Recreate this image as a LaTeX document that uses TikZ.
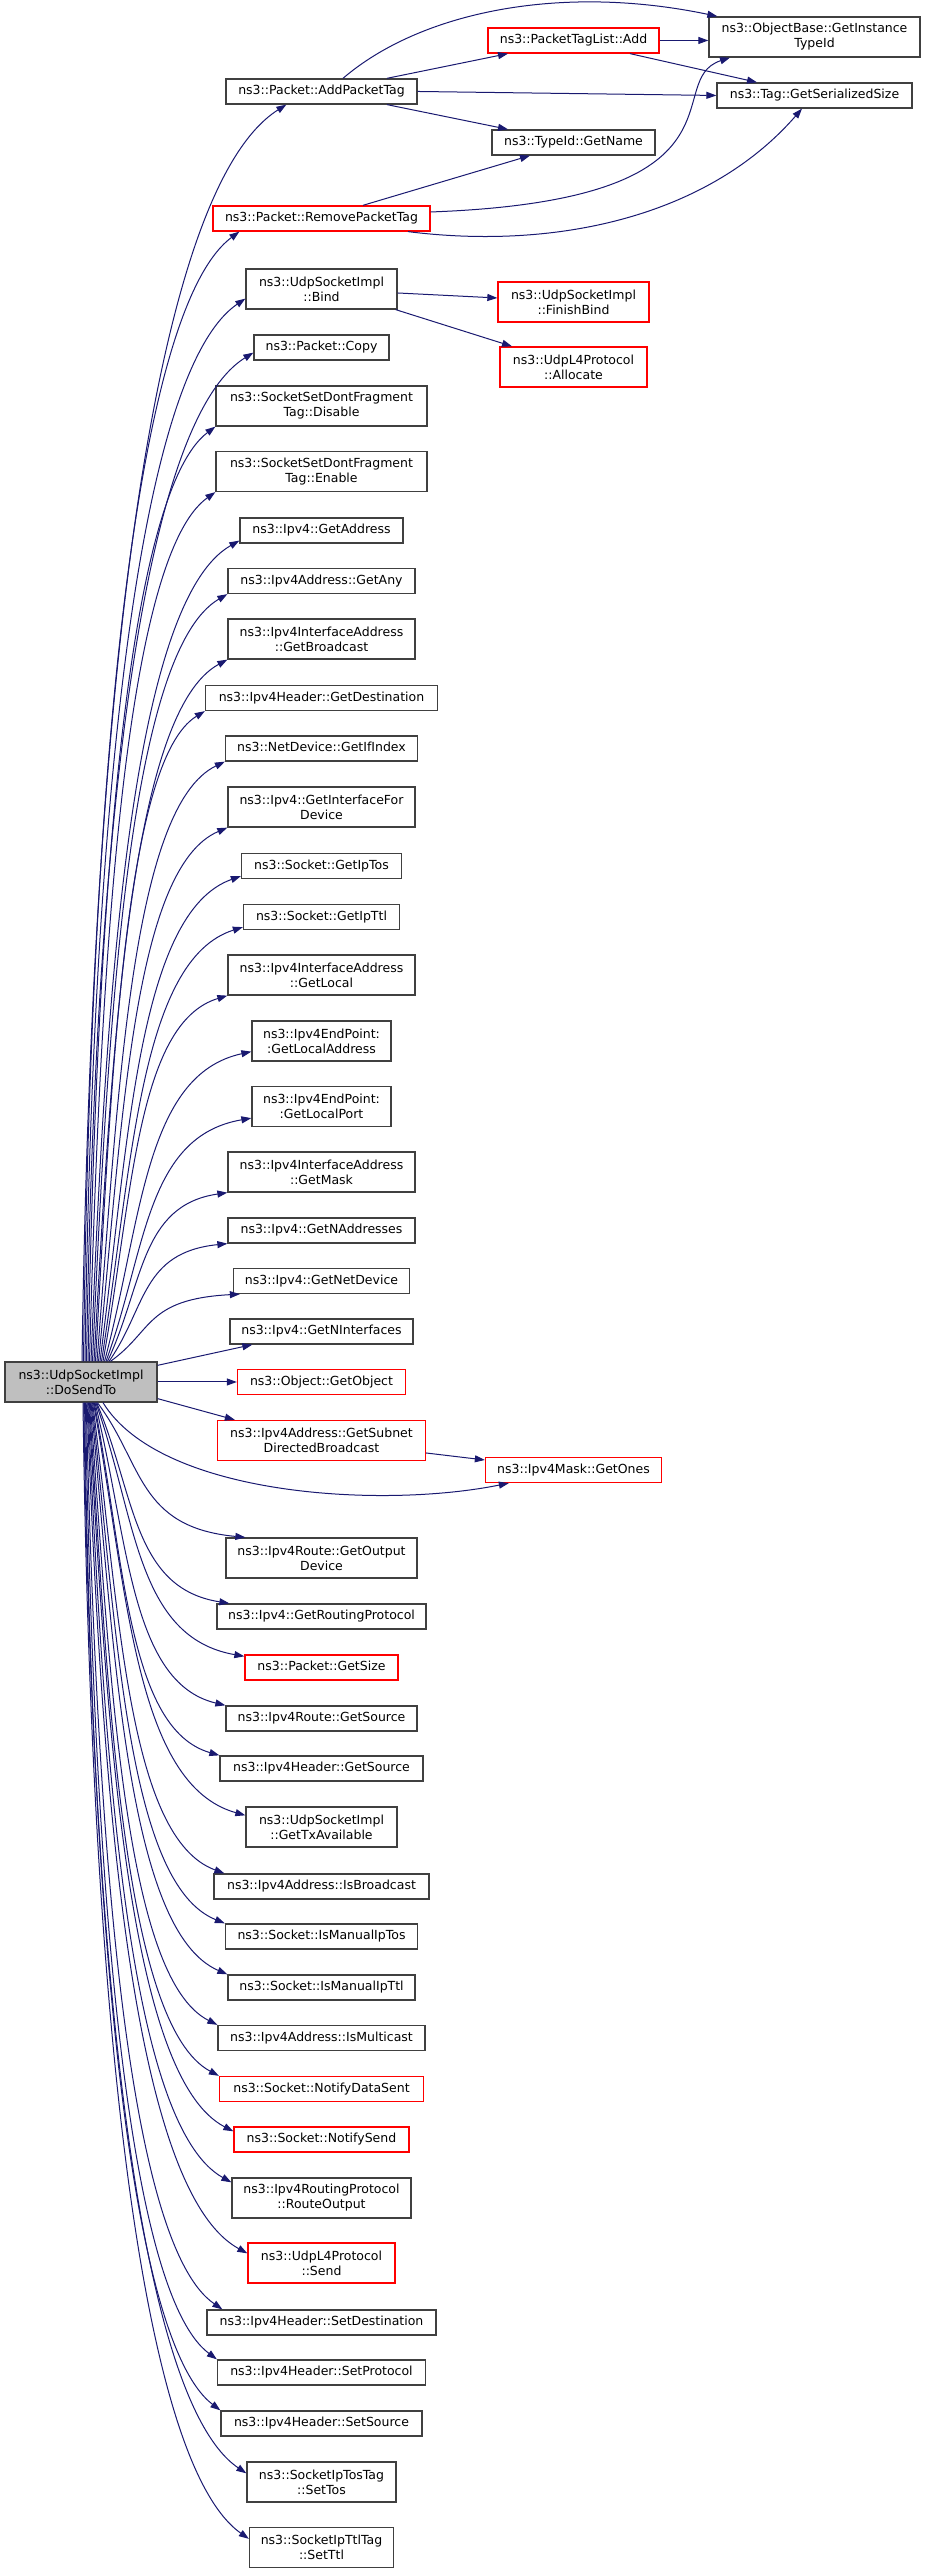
\documentclass[tikz,border=0pt]{standalone}
\usepackage{fontspec}
\newfontfamily\dotfont{DejaVu Sans}
\usetikzlibrary{arrows.meta,calc}
\definecolor{grey25}{HTML}{404040}
\definecolor{grey75}{HTML}{BFBFBF}
\definecolor{midnight}{HTML}{191970}
\tikzset{
  box/.style={draw=grey25, line width=1.3pt, fill=white, inner sep=0pt, align=center,
    font=\dotfont\fontsize{12.5pt}{15pt}\selectfont},
  fn/.style={box, minimum height=25pt, text height=9.5pt, text depth=2.7pt},
  fntwo/.style={box, minimum height=40pt},
  trunc/.style={draw=red},
  call/.style={midnight, line width=1pt, -{Triangle[length=10pt,width=7pt]}}
}
% curved call edge from the caller to a callee
\newcommand{\callto}[2]{\draw[call] let \p1=(#1), \p2=(#2), \n1={\x2-\x1}, \n2={\y2-\y1},
  \n3={max(0.04,0.35-0.0003*abs(\n2))} in
  (\p1) .. controls +(\n3*\n1,0.45*\n2) and +(-0.73*\n1,-0.075*\n2) .. (\p2);}

\begin{document}
\begin{tikzpicture}[x=1pt,y=1pt]
\useasboundingbox (0,0) rectangle (925,2573);
% caller
\node[fntwo, fill=grey75, minimum width=152pt] (main) at (81,1191) {ns3::UdpSocketImpl\\::DoSendTo};
% callees
\node[fn, minimum width=191pt] (add) at (321.5,2481.5) {ns3::Packet::AddPacketTag};
\node[fn, trunc, minimum width=217pt] (rpt) at (321.5,2354.5) {ns3::Packet::RemovePacketTag};
\node[fntwo, minimum width=151pt] (bind) at (321.5,2284) {ns3::UdpSocketImpl\\::Bind};
\node[fn, minimum width=135pt] (copy) at (321.5,2225.5) {ns3::Packet::Copy};
\node[fntwo, minimum width=211pt] (disable) at (321.5,2167) {ns3::SocketSetDontFragment\\Tag::Disable};
\node[fntwo, minimum width=211pt] (enable) at (321.5,2101.5) {ns3::SocketSetDontFragment\\Tag::Enable};
\node[fn, minimum width=163pt] (getaddr) at (321.5,2042.5) {ns3::Ipv4::GetAddress};
\node[fn, minimum width=187pt] (getany) at (321.5,1992) {ns3::Ipv4Address::GetAny};
\node[fntwo, minimum width=187pt] (bcast) at (321.5,1934) {ns3::Ipv4InterfaceAddress\\::GetBroadcast};
\node[fn, minimum width=232pt] (dest) at (321.5,1875) {ns3::Ipv4Header::GetDestination};
\node[fn, minimum width=192pt] (ifindex) at (321.5,1824.5) {ns3::NetDevice::GetIfIndex};
\node[fntwo, minimum width=187pt] (ifdev) at (321.5,1766) {ns3::Ipv4::GetInterfaceFor\\Device};
\node[fn, minimum width=160pt] (iptos) at (321.5,1707) {ns3::Socket::GetIpTos};
\node[fn, minimum width=156pt] (ipttl) at (321.5,1656) {ns3::Socket::GetIpTtl};
\node[fntwo, minimum width=187pt] (local) at (321.5,1598) {ns3::Ipv4InterfaceAddress\\::GetLocal};
\node[fntwo, minimum width=139pt] (localaddr) at (321.5,1532) {ns3::Ipv4EndPoint:\\:GetLocalAddress};
\node[fntwo, minimum width=139pt] (localport) at (321.5,1466.5) {ns3::Ipv4EndPoint:\\:GetLocalPort};
\node[fntwo, minimum width=187pt] (mask) at (321.5,1401) {ns3::Ipv4InterfaceAddress\\::GetMask};
\node[fn, minimum width=187pt] (naddr) at (321.5,1342.5) {ns3::Ipv4::GetNAddresses};
\node[fn, minimum width=176pt] (netdev) at (321.5,1292) {ns3::Ipv4::GetNetDevice};
\node[fn, minimum width=183pt] (nifaces) at (321.5,1241.5) {ns3::Ipv4::GetNInterfaces};
\node[fn, trunc, minimum width=168pt] (getobject) at (321.5,1191) {ns3::Object::GetObject};
\node[fntwo, trunc, minimum width=208pt] (subnet) at (321.5,1132.5) {ns3::Ipv4Address::GetSubnet\\DirectedBroadcast};
\node[fntwo, minimum width=191pt] (outdev) at (321.5,1015) {ns3::Ipv4Route::GetOutput\\Device};
\node[fn, minimum width=209pt] (routing) at (321.5,956.5) {ns3::Ipv4::GetRoutingProtocol};
\node[fn, trunc, minimum width=153pt] (size) at (321.5,905.5) {ns3::Packet::GetSize};
\node[fn, minimum width=191pt] (rsource) at (321.5,854.5) {ns3::Ipv4Route::GetSource};
\node[fn, minimum width=203pt] (hsource) at (321.5,804.5) {ns3::Ipv4Header::GetSource};
\node[fntwo, minimum width=151pt] (txavail) at (321.5,746) {ns3::UdpSocketImpl\\::GetTxAvailable};
\node[fn, minimum width=215pt] (isbcast) at (321.5,686.5) {ns3::Ipv4Address::IsBroadcast};
\node[fn, minimum width=192pt] (manualtos) at (321.5,636.5) {ns3::Socket::IsManualIpTos};
\node[fn, minimum width=187pt] (manualttl) at (321.5,585.5) {ns3::Socket::IsManualIpTtl};
\node[fn, minimum width=207pt] (ismcast) at (321.5,535) {ns3::Ipv4Address::IsMulticast};
\node[fn, trunc, minimum width=204pt] (datasent) at (321.5,484) {ns3::Socket::NotifyDataSent};
\node[fn, trunc, minimum width=175pt] (notifysend) at (321.5,433.5) {ns3::Socket::NotifySend};
\node[fntwo, minimum width=179pt] (routeoutput) at (321.5,375) {ns3::Ipv4RoutingProtocol\\::RouteOutput};
\node[fntwo, trunc, minimum width=147pt] (udpsend) at (321.5,310) {ns3::UdpL4Protocol\\::Send};
\node[fn, minimum width=229pt] (setdest) at (321.5,250.5) {ns3::Ipv4Header::SetDestination};
\node[fn, minimum width=208pt] (setproto) at (321.5,200.5) {ns3::Ipv4Header::SetProtocol};
\node[fn, minimum width=201pt] (setsrc) at (321.5,149.5) {ns3::Ipv4Header::SetSource};
\node[fntwo, minimum width=149pt] (settos) at (321.5,91) {ns3::SocketIpTosTag\\::SetTos};
\node[fntwo, minimum width=144pt] (setttl) at (321.5,25.5) {ns3::SocketIpTtlTag\\::SetTtl};
% second level
\node[fn, trunc, minimum width=171pt] (tagadd) at (573.5,2532.5) {ns3::PacketTagList::Add};
\node[fn, minimum width=163pt] (getname) at (573.5,2430.5) {ns3::TypeId::GetName};
\node[fntwo, trunc, minimum width=151pt] (finishbind) at (573.5,2271) {ns3::UdpSocketImpl\\::FinishBind};
\node[fntwo, trunc, minimum width=147pt] (allocate) at (573.5,2206) {ns3::UdpL4Protocol\\::Allocate};
\node[fn, trunc, minimum width=176pt] (getones) at (573.5,1103) {ns3::Ipv4Mask::GetOnes};
\node[fntwo, minimum width=211pt] (objbase) at (814.5,2536) {ns3::ObjectBase::GetInstance\\TypeId};
\node[fn, minimum width=195pt] (tagsize) at (814.5,2477.5) {ns3::Tag::GetSerializedSize};

% calls leaving the top of the caller
\callto{[xshift=1pt]main.north}{[xshift=61pt]add.south west}
\callto{[xshift=2.5pt]main.north}{[xshift=27pt]rpt.south west}
\callto{[xshift=4pt]main.north}{[yshift=11pt]bind.south west}
\callto{[xshift=5.5pt]main.north}{[yshift=8pt]copy.south west}
\callto{[xshift=7pt]main.north}{disable.south west}
\callto{[xshift=8.5pt]main.north}{enable.south west}
\callto{[xshift=10pt]main.north}{[yshift=3pt]getaddr.south west}
\callto{[xshift=11.5pt]main.north}{getany.south west}
\callto{[xshift=13pt]main.north}{bcast.south west}
\callto{[xshift=14.5pt]main.north}{dest.south west}
\callto{[xshift=16pt]main.north}{ifindex.south west}
\callto{[xshift=17.5pt]main.north}{ifdev.south west}
\callto{[xshift=19pt]main.north}{[yshift=3pt]iptos.south west}
\callto{[xshift=20.5pt]main.north}{[yshift=3pt]ipttl.south west}
\callto{[xshift=22pt]main.north}{local.south west}
\callto{[xshift=23.5pt]main.north}{[yshift=10pt]localaddr.south west}
\callto{[xshift=25pt]main.north}{[yshift=9pt]localport.south west}
\callto{[xshift=26.5pt]main.north}{mask.south west}
\callto{[xshift=28pt]main.north}{naddr.south west}
\callto{[xshift=29.5pt]main.north}{[xshift=7pt]netdev.south west}
% calls leaving the right side
\draw[call] ([yshift=-4pt]main.north east) -- ([xshift=23pt]nifaces.south west);
\draw[call] (main.east) -- (getobject.west);
\draw[call] ([yshift=4pt]main.south east) -- ([xshift=18pt]subnet.north west);
% calls leaving the bottom
\draw[call] ([xshift=22pt]main.south) .. controls +(57,-93) and +(-129,-26) .. ([xshift=24pt]getones.south west);
\callto{[xshift=16.4pt]main.south}{[xshift=20pt]outdev.north west}
\callto{[xshift=15.6pt]main.south}{[xshift=13pt]routing.north west}
\callto{[xshift=14.8pt]main.south}{[yshift=-2pt]size.north west}
\callto{[xshift=14pt]main.south}{rsource.north west}
\callto{[xshift=13.2pt]main.south}{hsource.north west}
\callto{[xshift=12.4pt]main.south}{[yshift=-9pt]txavail.north west}
\callto{[xshift=11.6pt]main.south}{[xshift=11pt]isbcast.north west}
\callto{[xshift=10.8pt]main.south}{manualtos.north west}
\callto{[xshift=10pt]main.south}{manualttl.north west}
\callto{[xshift=9.2pt]main.south}{ismcast.north west}
\callto{[xshift=8.4pt]main.south}{datasent.north west}
\callto{[xshift=7.6pt]main.south}{[yshift=-5pt]notifysend.north west}
\callto{[xshift=6.8pt]main.south}{[yshift=-5pt]routeoutput.north west}
\callto{[xshift=6pt]main.south}{[yshift=-11pt]udpsend.north west}
\callto{[xshift=5.2pt]main.south}{[xshift=16pt]setdest.north west}
\callto{[xshift=4.4pt]main.south}{setproto.north west}
\callto{[xshift=3.6pt]main.south}{setsrc.north west}
\callto{[xshift=2.8pt]main.south}{[yshift=-12pt]settos.north west}
\callto{[xshift=2pt]main.south}{[yshift=-12pt]setttl.north west}

% second level calls
\draw[call] ([xshift=21.5pt]add.north) .. controls +(77,66) and +(-158,33) .. ([xshift=9pt]objbase.north west);
\draw[call] ([xshift=65.5pt]add.north) -- ([xshift=-65.5pt]tagadd.south);
\draw[call] (add.east) -- (tagsize.west);
\draw[call] ([xshift=65.5pt]add.south) -- ([xshift=-65.5pt]getname.north);
\draw[call] (tagadd.east) -- (tagadd.east -| objbase.west);
\draw[call] ([xshift=56.5pt]tagadd.south) -- ([xshift=-57.5pt]tagsize.north);
\draw[call] ([xshift=41.5pt]rpt.north) -- ([xshift=-43.5pt]getname.south);
\draw[call] ([yshift=6.5pt]rpt.east) .. controls +(330,12) and +(-70,-23) .. ([xshift=-84.5pt]objbase.south);
\draw[call] ([xshift=86.5pt]rpt.south) .. controls +(152,-19) and +(-92,-106) .. ([xshift=-12.5pt]tagsize.south);
\draw[call] ([yshift=-4pt]bind.east) -- ([yshift=4pt]finishbind.west);
\draw[call] ([xshift=-2pt]bind.south east) -- ([xshift=-61.5pt]allocate.north);
\draw[call] ([yshift=-12.5pt]subnet.east) -- ([yshift=10pt]getones.west);
\end{tikzpicture}
\end{document}
